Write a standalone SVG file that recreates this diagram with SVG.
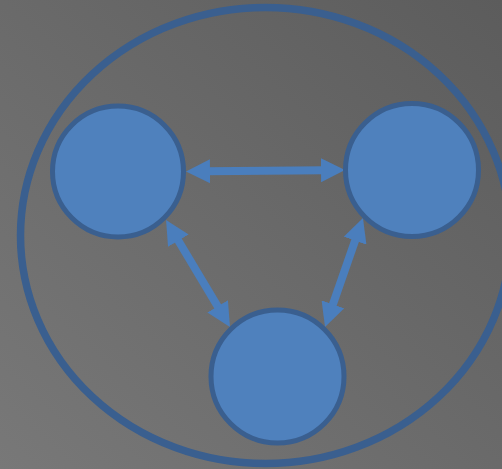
<svg xmlns="http://www.w3.org/2000/svg" width="502" height="469" viewBox="0 0 502 469">
<defs>
<linearGradient id="bg" x1="1" y1="0" x2="0" y2="1">
<stop offset="0" stop-color="#5c5c5c"/>
<stop offset="1" stop-color="#787878"/>
</linearGradient>
<marker id="head" viewBox="0 0 24 24" markerUnits="userSpaceOnUse" markerWidth="24" markerHeight="24" refX="4" refY="12" orient="auto-start-reverse">
<path d="M0,0 L24,12 L0,24 z" fill="#4a7ebd"/>
</marker>
<style>
.node{fill:#4f81bd;stroke:#3a5f8f;stroke-width:5}
.edge{stroke:#4a7ebd;stroke-width:8;fill:none;marker-start:url(#head);marker-end:url(#head)}
</style>
</defs>
<rect width="502" height="469" fill="url(#bg)"/>
<g id="boundary">
<ellipse cx="265.5" cy="235.5" rx="245" ry="228" fill="none" stroke="#3a5f8f" stroke-width="7.5"/>
</g>
<g id="connectors">
<line class="edge" x1="206" y1="171.3" x2="325" y2="170.2"/>
<line class="edge" x1="176.3" y1="237.2" x2="219.7" y2="309.8"/>
<line class="edge" x1="356.4" y1="236.9" x2="331.6" y2="308.1"/>
</g>
<g id="node-left"><circle class="node" cx="118" cy="171.5" r="65.5"/></g>
<g id="node-right"><circle class="node" cx="412" cy="170" r="66.5"/></g>
<g id="node-bottom"><circle class="node" cx="277.5" cy="376.5" r="66.5"/></g>
</svg>
